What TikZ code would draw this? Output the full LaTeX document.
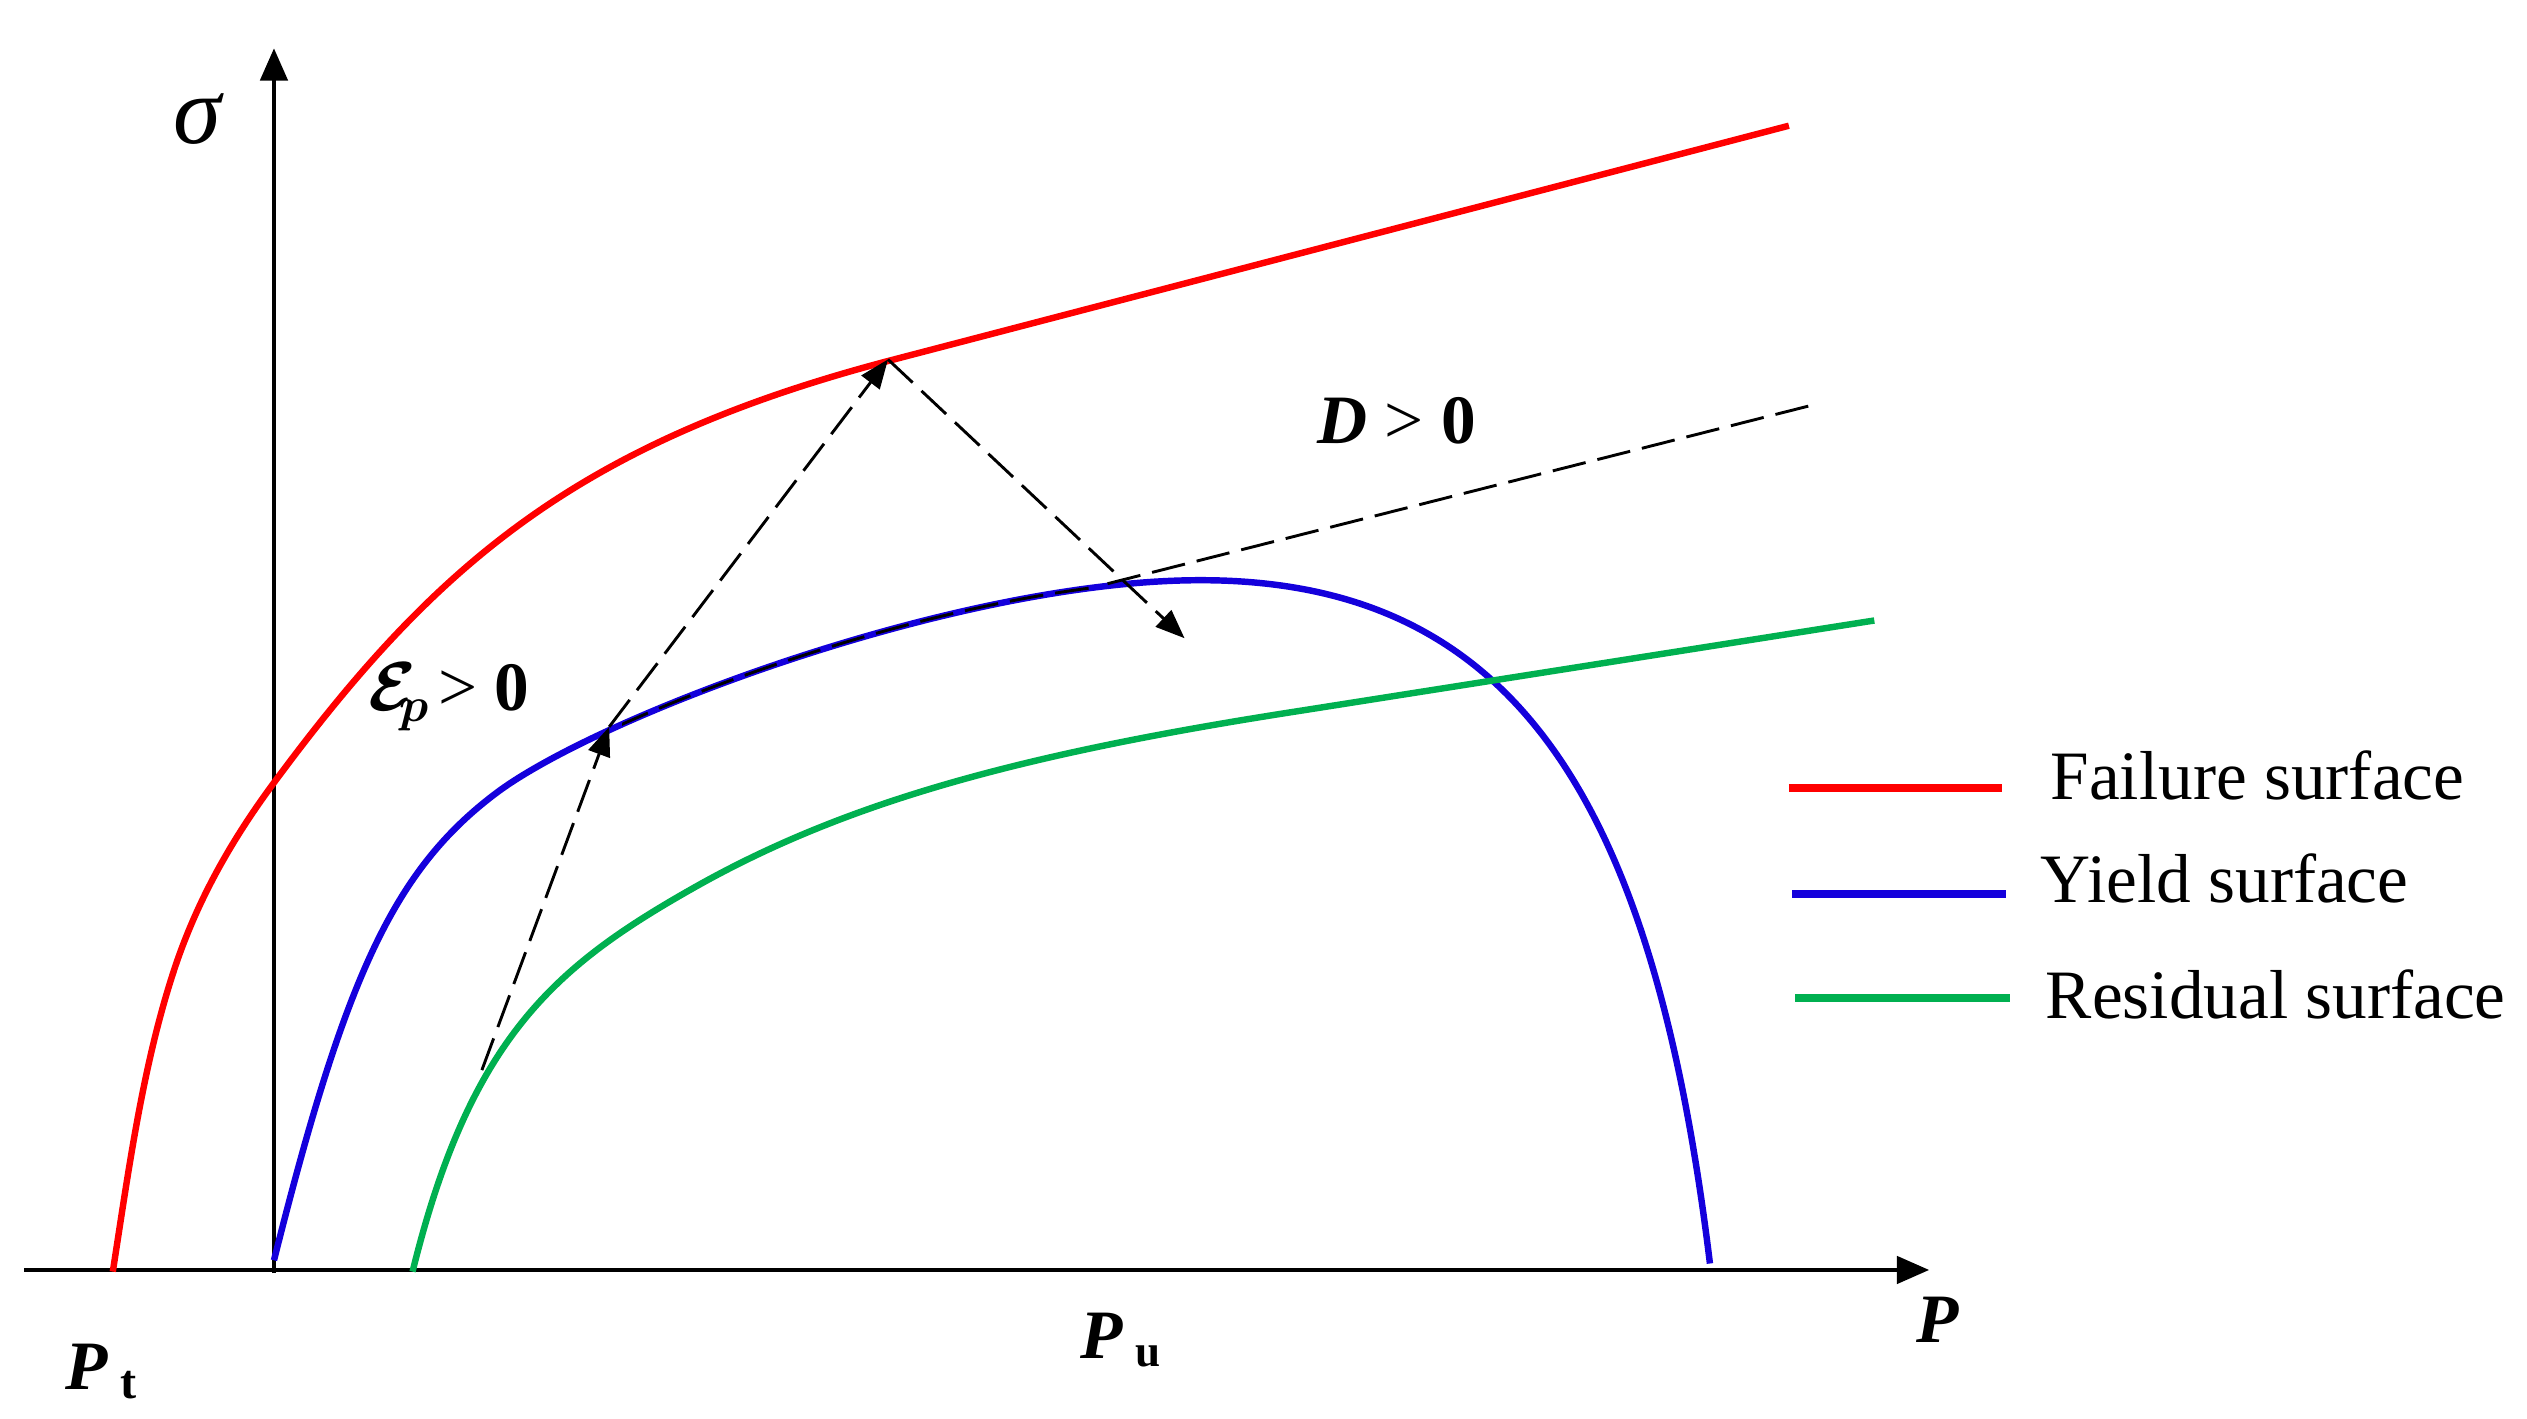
\documentclass[tikz,border=0pt]{standalone}
\usepackage{fix-cm}
\usepackage{bm}
\usepackage{fontspec}
\setmainfont{Liberation Serif}
\usetikzlibrary{arrows.meta}
\definecolor{fred}{RGB}{255,0,0}
\definecolor{fblue}{RGB}{20,0,220}
\definecolor{fgreen}{RGB}{0,176,80}
\begin{document}
\begin{tikzpicture}[x=0.5pt,y=-0.5pt,
  axisline/.style={line width=1.1pt,-{Triangle[length=10pt,width=8.5pt]}},
  surf/.style={line width=2pt},
  dline/.style={line width=0.9pt, dash pattern=on 10.5pt off 3.75pt},
  darrow/.style={dline,-{Triangle[length=9pt,width=7pt]}},
  lbl/.style={inner sep=0pt, anchor=base west, font=\fontsize{21.5pt}{26pt}\selectfont}]
\useasboundingbox (0,0) rectangle (1568,880);
% axes
\coordinate (xs) at (15,788);
\coordinate (xe) at (1197,788);
\coordinate (O) at (170,790);
\coordinate (ye) at (170,30);
\draw[axisline] (xs) -- (xe);
\draw[axisline] (O) -- (ye);
% failure surface
\draw[surf,fred] (70,789) .. controls (80,725) and (89,657) .. (110,596)
  .. controls (124,556) and (144,521) .. (169,487)
  .. controls (270,350) and (358,275) .. (551,224) -- (1110,78);
% yield surface
\draw[surf,fblue] (170,782) .. controls (214,607) and (244,540) .. (308,492)
  .. controls (372,444) and (595,360) .. (745,360)
  .. controls (940,360) and (1026,496) .. (1061,784);
% residual surface
\draw[surf,fgreen] (256,789) .. controls (292,643) and (345,599) .. (432,550)
  .. controls (528,496) and (639,467) .. (807,441) -- (1163,385);
% dashed paths
\coordinate (G) at (299,664);
\coordinate (B) at (378,451);
\coordinate (R) at (551,223);
\coordinate (E) at (735,396);
\coordinate (T) at (1122,252);
\coordinate (K) at (680,364);
\draw[dline] (T) -- (K);
\begin{scope}
\clip (386,300) rectangle (680,470);
\draw[dline] (308,492) .. controls (372,444) and (595,360) .. (745,360);
\end{scope}
\draw[darrow] (G) -- (B);
\draw[darrow] (B) -- (R);
\draw[darrow] (R) -- (E);
% labels
\node[lbl,font=\fontsize{30pt}{30pt}\selectfont\itshape] (sig) at (107,89) {σ};
\node[lbl] (dlab) at (817,275) {{\bfseries\itshape D} > {\bfseries 0}};
\node[lbl] (elab) at (228,441) {$\bm{\mathcal{E}}_{\!\!\bm{p}}$\hspace{-3pt} > {\bfseries 0}};
\node[lbl] (pt) at (40,862) {{\bfseries\itshape P}\hspace{4pt}\raisebox{-3pt}{\fontsize{15pt}{15pt}\selectfont\bfseries t}};
\node[lbl] (pu) at (670,843) {{\bfseries\itshape P}\hspace{4pt}\raisebox{-2.5pt}{\fontsize{14pt}{14pt}\selectfont\bfseries u}};
\node[lbl] (pp) at (1189,833) {\bfseries\itshape P};
% legend
\coordinate (l1a) at (1110,489); \coordinate (l1b) at (1242,489);
\coordinate (l2a) at (1112,555); \coordinate (l2b) at (1245,555);
\coordinate (l3a) at (1114,619); \coordinate (l3b) at (1247,619);
\draw[line width=2.5pt,fred] (l1a) -- (l1b);
\draw[line width=2.5pt,fblue] (l2a) -- (l2b);
\draw[line width=2.5pt,fgreen] (l3a) -- (l3b);
\node[lbl] (t1) at (1272,496) {Failure surface};
\node[lbl] (t2) at (1266,560) {Yield surface};
\node[lbl] (t3) at (1269,632) {Residual surface};
\end{tikzpicture}
\end{document}
